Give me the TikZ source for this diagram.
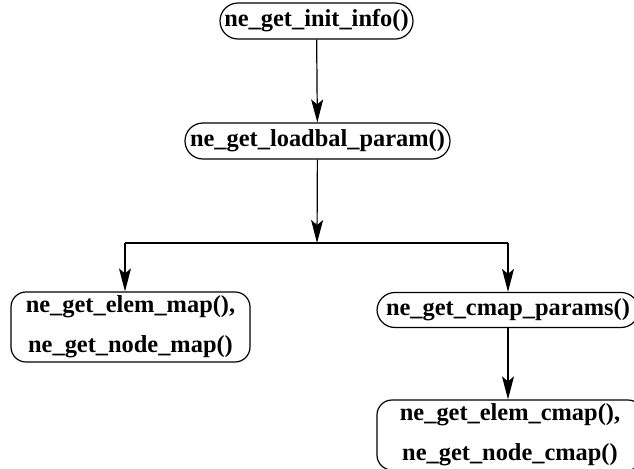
\documentclass[tikz,border=0pt]{standalone}
\usepackage{fontspec}
\setmainfont{Liberation Serif}
\usetikzlibrary{arrows.meta}

\begin{document}
\begin{tikzpicture}[x=0.5pt, y=-0.5pt,
      call/.style={draw, line width=0.6pt, rounded corners=9pt, inner sep=0pt, align=center,
        font=\fontsize{12.2}{20}\selectfont\bfseries},
      calls/.style={call, rounded corners=7.5pt},
      flow/.style={line width=0.6pt, -{Stealth[length=11.5pt, width=6pt, inset=2.5pt]}}]
      \useasboundingbox (0,0) rectangle (634,468);
      \node[call, minimum width=96.5pt, minimum height=18pt] (init) at (316.5,21) {ne\_get\_init\_info()};
      \node[call, minimum width=132.5pt, minimum height=18pt] (loadbal) at (317.5,141) {ne\_get\_loadbal\_param()};
      \node[calls, minimum width=119.5pt, minimum height=35pt] (elemmap) at (130.5,327) {ne\_get\_elem\_map(),\\ne\_get\_node\_map()};
      \node[call, minimum width=131pt, minimum height=17.5pt] (cmapparams) at (508,310) {ne\_get\_cmap\_params()};
      \node[calls, minimum width=133pt, minimum height=35pt] (elemcmap) at (510,435) {ne\_get\_elem\_cmap(),\\ne\_get\_node\_cmap()};
      \coordinate (split) at (317,243);
      \coordinate (jl) at (125,243);
      \coordinate (jr) at (508,243);
      \draw[flow] (init) -- (loadbal);
      \draw[flow] (loadbal) -- (split);
      \draw[line width=0.6pt] (jl) -- (jr);
      \draw[flow] (jl) -- (jl |- elemmap.north);
      \draw[flow] (jr) -- (cmapparams.north);
      \draw[flow] (cmapparams.south) -- (cmapparams.south |- elemcmap.north);
\end{tikzpicture}
\end{document}
